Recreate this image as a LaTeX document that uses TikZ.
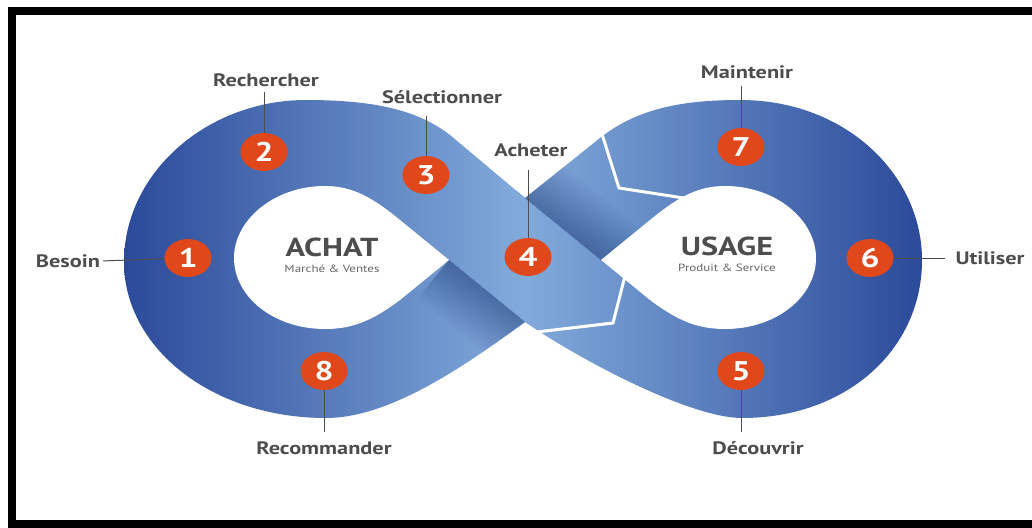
\documentclass[tikz,border=0pt]{standalone}
\usepackage{fontspec}
\setmainfont{PT Sans}[FakeStretch=1.24]
\usetikzlibrary{positioning,shapes.geometric}

\definecolor{dkblue}{HTML}{2B4A9A}
\definecolor{ltblue}{HTML}{82ABDB}
\definecolor{shadowblue}{HTML}{23407F}
\definecolor{numorange}{HTML}{E0481C}
\definecolor{lblgray}{HTML}{4D4D4D}
\definecolor{subgray}{HTML}{666666}

\tikzset{
  num/.style={ellipse, fill=numorange, text=white, minimum width=47pt, minimum height=38pt, inner sep=0pt, font=\fontsize{27}{27}\selectfont\bfseries},
  lbl/.style={text=lblgray, inner sep=0pt, font=\fontsize{18}{18}\selectfont\bfseries},
  pin/.style={draw=lblgray, line width=1pt},
  cut/.style={draw=white, line width=3pt, line join=miter},
  title/.style={text=lblgray, inner sep=0pt, font=\fontsize{26}{26}\selectfont\bfseries},
  sub/.style={text=subgray, inner sep=0pt, font=\fontsize{10.5}{11}\selectfont}
}

\begin{document}
\begin{tikzpicture}[x=1pt, y=-1pt]
\useasboundingbox (0,0) rectangle (1032,527);

\coordinate (T) at (525,198);
\coordinate (B) at (525,322);
\coordinate (L) at (449,260);
\coordinate (R) at (601,260);

\begin{scope}
\clip (T) -- (600,138) .. controls (640,106) and (690,100) .. (740,100)
  .. controls (846,100) and (922,175) .. (922,260)
  .. controls (922,350) and (846,418) .. (742,418)
  .. controls (690,418) and (580,360) .. (B)
  .. controls (470,362) and (392,418) .. (326,418)
  .. controls (212,418) and (124,348) .. (124,262)
  .. controls (124,172) and (208,100) .. (306,100)
  .. controls (380,100) and (420,112) .. (450,135) -- cycle;
\shade[left color=dkblue, right color=dkblue, middle color=ltblue] (124,100) rectangle (922,418);
\begin{scope}[shift={(L)}, rotate=-39.2]
\foreach \w in {2,4,...,50} \fill[shadowblue, opacity=0.024] (0,0) rectangle (100,\w);
\end{scope}
\begin{scope}[shift={(T)}, rotate=-39.2]
\foreach \w in {2,4,...,50} \fill[shadowblue, opacity=0.024] (-10,0) rectangle (140,-\w);
\end{scope}
\end{scope}

\fill[white] (L) -- (400,220) .. controls (372,197) and (352,186) .. (325,186)
  .. controls (274,186) and (234,220) .. (234,258)
  .. controls (234,297) and (274,329) .. (325,329)
  .. controls (352,329) and (372,321) .. (400,300) -- cycle;
\fill[white] (R) -- (650,220) .. controls (678,197) and (698,186) .. (725,186)
  .. controls (776,186) and (816,220) .. (816,258)
  .. controls (816,297) and (776,329) .. (725,329)
  .. controls (698,329) and (678,321) .. (650,300) -- cycle;

\draw[cut] (601,131) -- (619,188) -- (690,199);
\draw[cut] (627,268) -- (613,323) -- (528,333);

\draw[line width=8pt] (12,11) rectangle (1040,523.5);

\node[title] (achat) at (332,247) {ACHAT};
\node[sub, below=8pt of achat] (mv) {Marché \& Ventes};
\node[title] (usage) at (727,246) {USAGE};
\node[sub, below=8pt of usage] (ps) {Produit \& Service};

\node[lbl] (bes) at (68,261) {Besoin};
\node[lbl] (rech) at (266,80) {Rechercher};
\node[lbl] (sel) at (442,97) {Sélectionner};
\node[lbl] (ach) at (531,150) {Acheter};
\node[lbl] (maint) at (747,72) {Maintenir};
\node[lbl] (util) at (990,258) {Utiliser};
\node[lbl] (dec) at (758,448) {Découvrir};
\node[lbl] (rec) at (324,448) {Recommander};

\coordinate (c1) at (188,258);
\coordinate (c2) at (264,152);
\coordinate (c3) at (426,175);
\coordinate (c4) at (528,257);
\coordinate (c5) at (741,371);
\coordinate (c6) at (870,258);
\coordinate (c7) at (741,147);
\coordinate (c8) at (324,371);

\draw[pin, shorten >=3pt] (c1) -- (bes.east);
\draw[pin, shorten >=5pt] (c2) -- (c2 |- rech.south);
\draw[pin, shorten >=12pt] (c3) -- (c3 |- sel.south);
\draw[pin, shorten >=13pt] (c4) -- (c4 |- ach.south);
\draw[pin, shorten >=7pt] (c7) -- (c7 |- maint.south);
\draw[pin, shorten >=10pt] (c6) -- (util.west);
\draw[pin, shorten >=9pt] (c5) -- (c5 |- dec.north);
\draw[pin, shorten >=9pt] (c8) -- (c8 |- rec.north);

\node[num] at (c1) {1};
\node[num] at (c2) {2};
\node[num] at (c3) {3};
\node[num] at (c4) {4};
\node[num] at (c5) {5};
\node[num] at (c6) {6};
\node[num] at (c7) {7};
\node[num] at (c8) {8};
\end{tikzpicture}
\end{document}
